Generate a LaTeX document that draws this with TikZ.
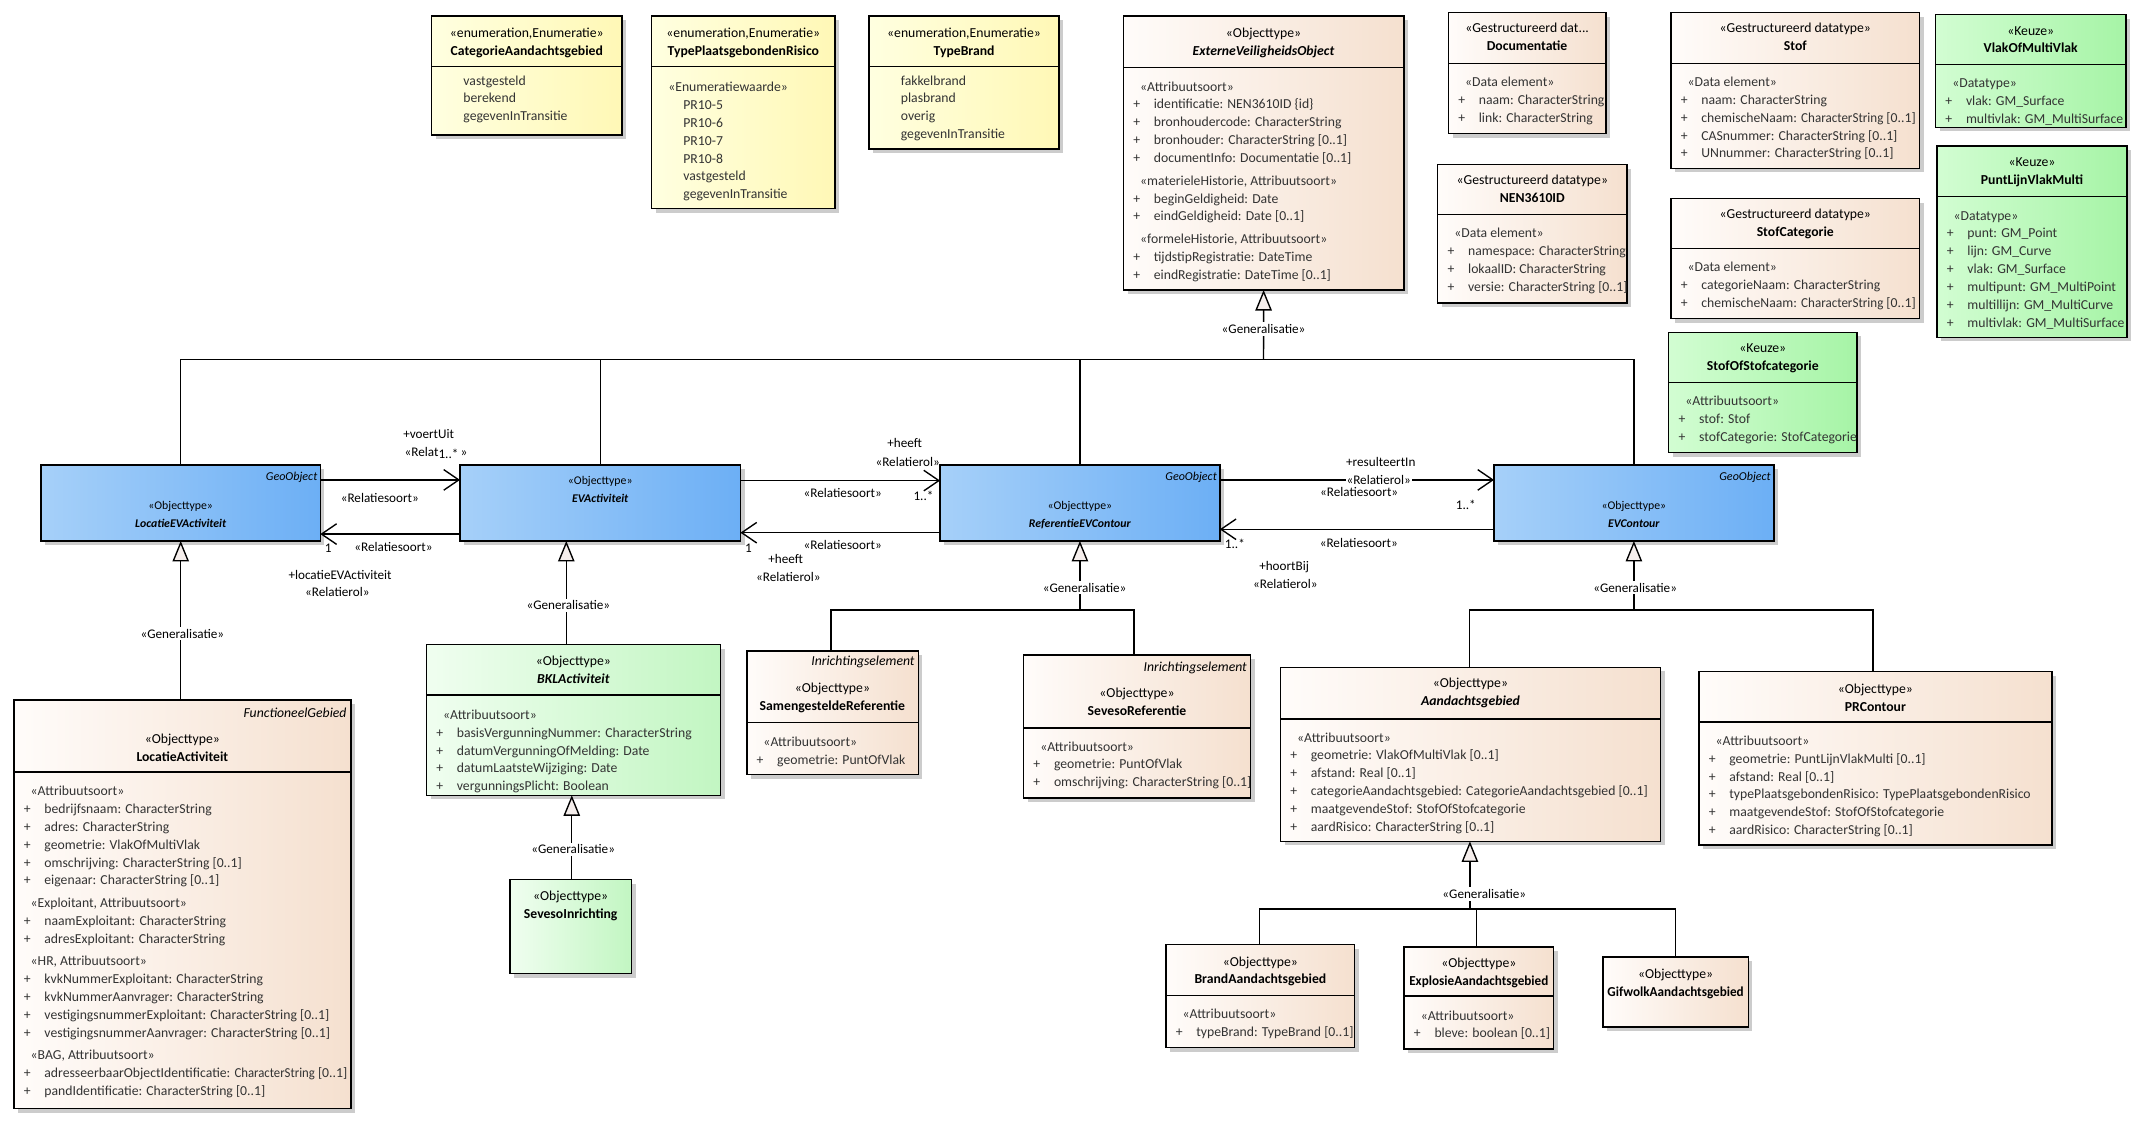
\documentclass[tikz,border=0pt]{standalone}
\usepackage{fontspec}
\setmainfont{Carlito}
\usetikzlibrary{arrows.meta,shadows}
\definecolor{blueL}{HTML}{A6D0F9}
\definecolor{blueR}{HTML}{6CAFF5}
\definecolor{begL}{HTML}{FFFCFA}
\definecolor{begR}{HTML}{F5E0CF}
\definecolor{yelL}{HTML}{FFFFE0}
\definecolor{yelR}{HTML}{FFF8B6}
\definecolor{grnL}{HTML}{F0FEF0}
\definecolor{grnR}{HTML}{C2F6C2}
\definecolor{keuL}{HTML}{D2FDD2}
\definecolor{keuR}{HTML}{A6F4A6}
\definecolor{genfill}{HTML}{F5EEEC}
\newcommand\grp[1]{\strut\hspace*{5pt}#1}
\newcommand\att[1]{\strut\makebox[15pt][l]{+}#1}
\newcommand\val[1]{\strut\hspace*{16pt}#1}
\newcommand\hd[2]{\strut#1\\\strut#2}
\newcommand\umlbox[6]{\pgfmathsetmacro\bw{#4-#2}\pgfmathsetmacro\bh{#5-#3}%
  \node[#6, anchor=north west, minimum width=\bw pt, minimum height=\bh pt] (#1) at (#2,#3) {};}
\newcommand\divline[2]{\draw[boxline] (#1.west |- 0,#2) -- (#1.east |- 0,#2);}
\tikzset{
 boxline/.style={draw=black, line width=1.1pt},
 umlb/.style={draw=black, line width=1.1pt, inner sep=0pt, outer sep=0pt,
   drop shadow={shadow xshift=3pt, shadow yshift=-3pt, fill=black!20, opacity=1}},
 blueb/.style={umlb, left color=blueL, right color=blueR},
 begb/.style={umlb, left color=begL, right color=begR},
 yelb/.style={umlb, left color=yelL, right color=yelR},
 grnb/.style={umlb, left color=grnL, right color=grnR},
 keub/.style={umlb, left color=keuL, right color=keuR},
 hdr/.style={inner sep=0pt, align=center, anchor=north, font=\fontsize{10}{13}\selectfont},
 bdy/.style={inner sep=0pt, align=left, anchor=north west, text=black!80, font=\fontsize{10}{13}\selectfont},
 tagt/.style={inner sep=0pt, anchor=east, font=\fontsize{10}{12}\selectfont\itshape},
 btag/.style={inner sep=0pt, anchor=east, font=\fontsize{8.8}{12}\selectfont\itshape},
 bhdr/.style={inner sep=0pt, align=center, anchor=north, font=\fontsize{8.6}{13}\selectfont},
 lbl/.style={inner sep=0.5pt, font=\fontsize{9.6}{11}\selectfont},
 glbl/.style={lbl, fill=white, inner sep=1.5pt},
 conn/.style={draw=black, line width=1pt},
 assoc/.style={conn, -{Straight Barb[length=11pt, width=15pt]}},
 gen/.style={conn, -{Triangle[length=15pt, width=12pt, fill=genfill]}},
}
\begin{document}
\begin{tikzpicture}[x=1pt,y=-1pt]
\useasboundingbox (0,0) rectangle (1568,821);
\fill[white] (0,0) rectangle (1568,821);

% ---------- enumerations ----------
\umlbox{cat}{314.8}{11.7}{453.5}{98.5}{yelb}
\divline{cat}{48.6}
\node[hdr] (cat-h) at (384.2,24.3-6.1) {\hd{«enumeration,Enumeratie»}{\textbf{CategorieAandachtsgebied}}};
\node[bdy] (cat-b) at (321.8,58.8-6.1) {\val{vastgesteld}\\\val{berekend}\\\val{gegevenInTransitie}};

\umlbox{tpr}{475.2}{11.7}{609}{152}{yelb}
\divline{tpr}{48.6}
\node[hdr] (tpr-h) at (542.1,24.3-6.1) {\hd{«enumeration,Enumeratie»}{\textbf{TypePlaatsgebondenRisico}}};
\node[bdy] (tpr-b) at (482.2,63.7-6.1) {\grp{«Enumeratiewaarde»}\\\val{PR10-5}\\\val{PR10-6}\\\val{PR10-7}\\\val{PR10-8}\\\val{vastgesteld}\\\val{gegevenInTransitie}};

\umlbox{tb}{633.8}{11.7}{772.4}{108.7}{yelb}
\divline{tb}{48.6}
\node[hdr] (tb-h) at (703.1,24.3-6.1) {\hd{«enumeration,Enumeratie»}{\textbf{TypeBrand}}};
\node[bdy] (tb-b) at (640.8,58.8-6.1) {\val{fakkelbrand}\\\val{plasbrand}\\\val{overig}\\\val{gegevenInTransitie}};

% ---------- ExterneVeiligheidsObject ----------
\umlbox{evo}{819.3}{11.7}{1023.8}{211.5}{begb}
\divline{evo}{49.1}
\node[hdr] (evo-h) at (921.5,24.3-6.1) {\hd{«Objecttype»}{\textbf{\textit{ExterneVeiligheidsObject}}}};
\node[bdy] (evo-b) at (826.3,63.2-6.1) {\grp{«Attribuutsoort»}\\
\att{identificatie: NEN3610ID \{id\}}\\
\att{bronhoudercode: CharacterString}\\
\att{bronhouder: CharacterString [0..1]}\\
\att{documentInfo: Documentatie [0..1]}\\[3.7pt]
\grp{«materieleHistorie, Attribuutsoort»}\\
\att{beginGeldigheid: Date}\\
\att{eindGeldigheid: Date [0..1]}\\[3.7pt]
\grp{«formeleHistorie, Attribuutsoort»}\\
\att{tijdstipRegistratie: DateTime}\\
\att{eindRegistratie: DateTime [0..1]}};

% ---------- Documentatie / NEN3610ID ----------
\umlbox{doc}{1056.3}{9.2}{1171.2}{97.3}{begb}
\divline{doc}{46.2}
\node[hdr] (doc-h) at (1113.7,20.7-6.1) {\hd{«Gestructureerd dat...}{\textbf{Documentatie}}};
\node[bdy] (doc-b) at (1063.3,60-6.1) {\grp{«Data element»}\\\att{naam: CharacterString}\\\att{link: CharacterString}};

\umlbox{nen}{1048.5}{119.9}{1186.6}{220.8}{begb}
\divline{nen}{156.3}
\node[hdr] (nen-h) at (1117.5,131.5-6.1) {\hd{«Gestructureerd datatype»}{\textbf{NEN3610ID}}};
\node[bdy] (nen-b) at (1055.5,170.2-6.1) {\grp{«Data element»}\\\att{namespace: CharacterString}\\\att{lokaalID: CharacterString}\\\att{versie: CharacterString [0..1]}};

% ---------- Stof / StofCategorie / StofOfStofcategorie ----------
\umlbox{stof}{1218.6}{9.2}{1400}{122.8}{begb}
\divline{stof}{46.2}
\node[hdr] (stof-h) at (1309.3,20.7-6.1) {\hd{«Gestructureerd datatype»}{\textbf{Stof}}};
\node[bdy] (stof-b) at (1225.6,60-6.1) {\grp{«Data element»}\\\att{naam: CharacterString}\\\att{chemischeNaam: \scalebox{0.95}[1]{CharacterString} [0..1]}\\\att{CASnummer: CharacterString [0..1]}\\\att{UNnummer: CharacterString [0..1]}};

\umlbox{stc}{1218.6}{144.9}{1400}{232.2}{begb}
\divline{stc}{181.1}
\node[hdr] (stc-h) at (1309.3,156.3-6.1) {\hd{«Gestructureerd datatype»}{\textbf{StofCategorie}}};
\node[bdy] (stc-b) at (1225.6,195-6.1) {\grp{«Data element»}\\\att{categorieNaam: CharacterString}\\\att{chemischeNaam: \scalebox{0.95}[1]{CharacterString} [0..1]}};

\umlbox{sos}{1217}{242.4}{1354.3}{330}{keub}
\divline{sos}{278.9}
\node[hdr] (sos-h) at (1285.6,254-6.1) {\hd{«Keuze»}{\textbf{StofOfStofcategorie}}};
\node[bdy] (sos-b) at (1224,292.5-6.1) {\grp{«Attribuutsoort»}\\\att{stof: Stof}\\\att{stofCategorie: StofCategorie}};

% ---------- Keuze right ----------
\umlbox{vmv}{1411.6}{10.5}{1550.5}{92.9}{keub}
\divline{vmv}{46.9}
\node[hdr] (vmv-h) at (1481,22.4-6.1) {\hd{«Keuze»}{\textbf{VlakOfMultiVlak}}};
\node[bdy] (vmv-b) at (1418.6,60.8-6.1) {\grp{«Datatype»}\\\att{vlak: GM\_Surface}\\\att{multivlak: GM\_MultiSurface}};

\umlbox{plvm}{1412.6}{106.5}{1551.2}{246}{keub}
\divline{plvm}{143.4}
\node[hdr] (plvm-h) at (1481.9,118.4-6.1) {\hd{«Keuze»}{\textbf{PuntLijnVlakMulti}}};
\node[bdy] (plvm-b) at (1419.6,157.3-6.1) {\grp{«Datatype»}\\\att{punt: GM\_Point}\\\att{lijn: GM\_Curve}\\\att{vlak: GM\_Surface}\\\att{multipunt: GM\_MultiPoint}\\\att{multillijn: GM\_MultiCurve}\\\att{multivlak: GM\_MultiSurface}};

% ---------- blue row ----------
\umlbox{lev}{30}{339}{233.6}{394.5}{blueb}
\node[btag] (lev-t) at (231.6,348) {GeoObject};
\node[bhdr] (lev-h) at (131.8,368.9-6.5) {\hd{«Objecttype»}{\textbf{\textit{LocatieEVActiviteit}}}};

\umlbox{eva}{335.5}{339}{540}{394.5}{blueb}
\node[bhdr] (eva-h) at (437.75,350.9-6.5) {\hd{«Objecttype»}{\textbf{\textit{EVActiviteit}}}};

\umlbox{ref}{685.6}{339}{889.6}{394.5}{blueb}
\node[btag] (ref-t) at (887.6,348) {GeoObject};
\node[bhdr] (ref-h) at (787.6,368.9-6.5) {\hd{«Objecttype»}{\textbf{\textit{ReferentieEVContour}}}};

\umlbox{evc}{1089.6}{339}{1293.6}{394.5}{blueb}
\node[btag] (evc-t) at (1291.6,348) {GeoObject};
\node[bhdr] (evc-h) at (1191.6,368.9-6.5) {\hd{«Objecttype»}{\textbf{\textit{EVContour}}}};

% ---------- lower boxes ----------
\umlbox{la}{10.2}{510.6}{255.8}{808.4}{begb}
\divline{la}{563.1}
\node[tagt] (la-t) at (252.9,519.8) {FunctioneelGebied};
\node[hdr] (la-h) at (133,538.8-6.1) {\hd{«Objecttype»}{\textbf{LocatieActiviteit}}};
\node[bdy] (la-b) at (17.2,577.2-6.1) {\grp{«Attribuutsoort»}\\
\att{bedrijfsnaam: CharacterString}\\
\att{adres: CharacterString}\\
\att{geometrie: VlakOfMultiVlak}\\
\att{omschrijving: CharacterString [0..1]}\\
\att{eigenaar: CharacterString [0..1]}\\[3.5pt]
\grp{«Exploitant, Attribuutsoort»}\\
\att{naamExploitant: CharacterString}\\
\att{adresExploitant: CharacterString}\\[3.5pt]
\grp{«HR, Attribuutsoort»}\\
\att{kvkNummerExploitant: CharacterString}\\
\att{kvkNummerAanvrager: CharacterString}\\
\att{vestigingsnummerExploitant: CharacterString [0..1]}\\
\att{vestigingsnummerAanvrager: CharacterString [0..1]}\\[3.5pt]
\grp{«BAG, Attribuutsoort»}\\
\att{adresseerbaarObjectIdentificatie: \scalebox{0.93}[1]{CharacterString} [0..1]}\\
\att{pandIdentificatie: CharacterString [0..1]}};

\umlbox{bkl}{311}{470}{525.5}{580}{grnb}
\divline{bkl}{507}
\node[hdr] (bkl-h) at (418.2,482-6.1) {\hd{«Objecttype»}{\textbf{\textit{BKLActiviteit}}}};
\node[bdy] (bkl-b) at (318,521.5-6.1) {\grp{«Attribuutsoort»}\\\att{basisVergunningNummer: CharacterString}\\\att{datumVergunningOfMelding: Date}\\\att{datumLaatsteWijziging: Date}\\\att{vergunningsPlicht: Boolean}};

\umlbox{sevi}{372}{641.4}{460.5}{710}{grnb}
\node[hdr] (sevi-h) at (416.2,653.5-6.1) {\hd{«Objecttype»}{\textbf{SevesoInrichting}}};

\umlbox{sam}{544.6}{474.6}{669.7}{565}{begb}
\divline{sam}{527}
\node[tagt] (sam-t) at (667.2,483) {Inrichtingselement};
\node[hdr] (sam-h) at (607.1,502-6.1) {\hd{«Objecttype»}{\textbf{SamengesteldeReferentie}}};
\node[bdy] (sam-b) at (551.6,541-6.1) {\grp{«Attribuutsoort»}\\\att{geometrie: PuntOfVlak}};

\umlbox{sevr}{746.5}{477.8}{912}{582}{begb}
\divline{sevr}{530.8}
\node[tagt] (sevr-t) at (909.5,487) {Inrichtingselement};
\node[hdr] (sevr-h) at (829.2,505.7-6.1) {\hd{«Objecttype»}{\textbf{SevesoReferentie}}};
\node[bdy] (sevr-b) at (753.5,544.6-6.1) {\grp{«Attribuutsoort»}\\\att{geometrie: PuntOfVlak}\\\att{omschrijving: CharacterString [0..1]}};

\umlbox{ag}{933.8}{486.7}{1211}{613.6}{begb}
\divline{ag}{524.2}
\node[hdr] (ag-h) at (1072.4,498.5-6.1) {\hd{«Objecttype»}{\textbf{\textit{Aandachtsgebied}}}};
\node[bdy] (ag-b) at (940.8,538-6.1) {\grp{«Attribuutsoort»}\\\att{geometrie: VlakOfMultiVlak [0..1]}\\\att{afstand: Real [0..1]}\\\att{categorieAandachtsgebied: CategorieAandachtsgebied [0..1]}\\\att{maatgevendeStof: StofOfStofcategorie}\\\att{aardRisico: CharacterString [0..1]}};

\umlbox{pr}{1239}{489.9}{1496.4}{616.4}{begb}
\divline{pr}{526.6}
\node[hdr] (pr-h) at (1367.7,502.6-6.1) {\hd{«Objecttype»}{\textbf{PRContour}}};
\node[bdy] (pr-b) at (1246,540.5-6.1) {\grp{«Attribuutsoort»}\\\att{geometrie: PuntLijnVlakMulti [0..1]}\\\att{afstand: Real [0..1]}\\\att{typePlaatsgebondenRisico: TypePlaatsgebondenRisico}\\\att{maatgevendeStof: StofOfStofcategorie}\\\att{aardRisico: CharacterString [0..1]}};

\umlbox{br}{850.3}{688.8}{988}{764}{begb}
\divline{br}{726}
\node[hdr] (br-h) at (919.2,701.4-6.1) {\hd{«Objecttype»}{\textbf{BrandAandachtsgebied}}};
\node[bdy] (br-b) at (857.3,739.9-6.1) {\grp{«Attribuutsoort»}\\\att{typeBrand: TypeBrand [0..1]}};

\umlbox{ex}{1024}{690.5}{1133}{765}{begb}
\divline{ex}{726.5}
\node[hdr] (ex-h) at (1078.5,702.6-6.1) {\hd{«Objecttype»}{\scalebox{0.96}[1]{\textbf{ExplosieAandachtsgebied}}}};
\node[bdy] (ex-b) at (1031,740.8-6.1) {\grp{«Attribuutsoort»}\\\att{bleve: boolean [0..1]}};

\umlbox{gif}{1169}{698}{1275}{749}{begb}
\node[hdr] (gif-h) at (1222,710.4-6.1) {\hd{«Objecttype»}{\scalebox{0.96}[1]{\textbf{GifwolkAandachtsgebied}}}};

% ---------- generalisation connectors ----------
\coordinate (g0) at (921.5,262);
\draw[gen] (g0) -- (evo.south);
\draw[conn] (lev.north) |- (g0);
\draw[conn] (eva.north) |- (g0);
\draw[conn] (ref.north) |- (g0);
\draw[conn] (evc.north) |- (g0);
\node[glbl] (g0-l) at (921.5,240) {«Generalisatie»};

\draw[gen] (lev.south |- la.north) -- (lev.south);
\node[glbl] (g-la) at (133,462) {«Generalisatie»};

\draw[gen] (bkl.north -| 413,0) -- (eva.south -| 413,0);
\node[glbl] (g-bkl) at (414.5,441.5) {«Generalisatie»};

\draw[gen] (sevi.north -| 417,0) -- (bkl.south -| 417,0);
\node[glbl] (g-sevi) at (418,619.5) {«Generalisatie»};

\coordinate (g1) at (787.6,445);
\draw[gen] (g1) -- (ref.south);
\draw[conn] (sam.north -| 606,0) |- (g1);
\draw[conn] (sevr.north -| 827,0) |- (g1);
\node[glbl] (g1-l) at (791,428.5) {«Generalisatie»};

\coordinate (g2) at (1191.6,445);
\draw[gen] (g2) -- (evc.south);
\draw[conn] (ag.north -| 1071.5,0) |- (g2);
\draw[conn] (pr.north -| 1366,0) |- (g2);
\node[glbl] (g2-l) at (1192.5,428.5) {«Generalisatie»};

\coordinate (g3) at (1072,663);
\draw[gen] (g3) -- (ag.south -| g3);
\draw[conn] (br.north -| 918.5,0) |- (g3);
\draw[conn] (ex.north -| 1077,0) |- (g3);
\draw[conn] (gif.north -| 1222,0) |- (g3);
\node[glbl] (g3-l) at (1082.5,652) {«Generalisatie»};

% ---------- associations ----------
\draw[assoc] (lev.east |- 0,350) -- (eva.west |- 0,350);
\draw[assoc] (eva.west |- 0,389.5) -- (lev.east |- 0,389.5);
\draw[assoc] (eva.east |- 0,350.5) -- (ref.west |- 0,350.5);
\draw[assoc] (ref.west |- 0,388.5) -- (eva.east |- 0,388.5);
\draw[assoc] (ref.east |- 0,350) -- (evc.west |- 0,350);
\draw[assoc] (evc.west |- 0,386) -- (ref.east |- 0,386);

\node[lbl] (l-voert) at (312.6,316.8) {+voertUit};
\node[lbl] (l-relat) at (318,330.6) {«Relat\raisebox{-1.5pt}{1..*}\,»};
\node[lbl] (l-rs1) at (277,363.5) {«Relatiesoort»};
\node[lbl] (l-one1) at (239.4,400) {1};
\node[lbl] (l-rs2) at (287,399) {«Relatiesoort»};
\node[lbl] (l-loc) at (248,419) {+locatieEVActiviteit};
\node[lbl] (l-rol2) at (246,432) {«Relatierol»};

\node[lbl] (l-heeft1) at (659.7,323.4) {+heeft};
\node[lbl] (l-rol3) at (662,336.8) {«Relatierol»};
\node[lbl] (l-rs3) at (614.6,359.8) {«Relatiesoort»};
\node[lbl] (l-m3) at (673.5,362) {1..*};
\node[lbl] (l-one4) at (545.8,399.5) {1};
\node[lbl] (l-rs4) at (614.6,397.5) {«Relatiesoort»};
\node[lbl] (l-heeft4) at (573,407.7) {+heeft};
\node[lbl] (l-rol4) at (575,420.6) {«Relatierol»};

\node[lbl] (l-res) at (1007,336.7) {+resulteertIn};
\node[lbl, fill=white] (l-rol5) at (1005.5,350) {«Relatierol»};
\node[lbl] (l-rs5) at (991.2,359) {«Relatiesoort»};
\node[lbl] (l-m5) at (1069,368) {1..*};
\node[lbl] (l-m6) at (900.6,396.8) {1..*};
\node[lbl] (l-rs6) at (991,396) {«Relatiesoort»};
\node[lbl] (l-hoort) at (936.5,413.3) {+hoortBij};
\node[lbl] (l-rol6) at (937.4,426.2) {«Relatierol»};
\end{tikzpicture}
\end{document}
